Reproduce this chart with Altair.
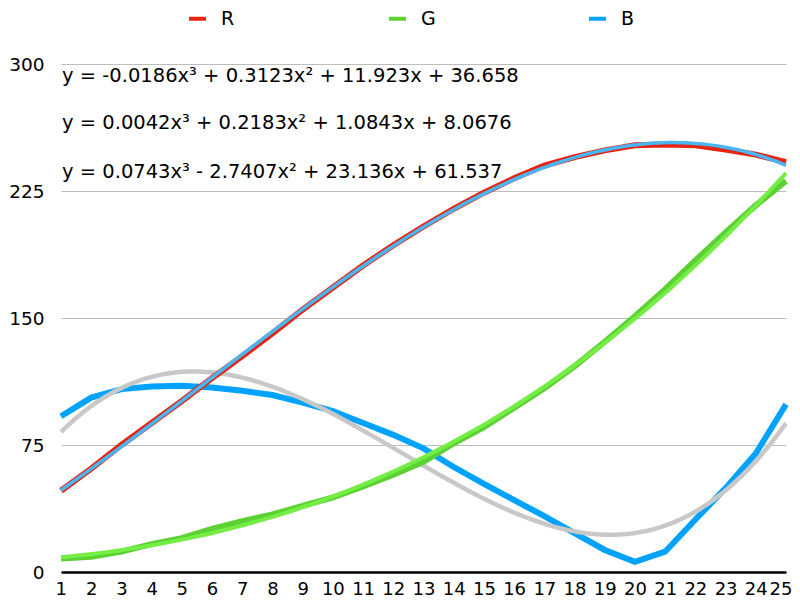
import altair as alt
import pandas as pd

# values
xs = list(range(1, 26))
r_vals = [48, 61, 75, 88, 101, 114.5, 127.5, 141, 155, 168, 181, 193, 204,
          214.5, 224, 232.5, 240, 245, 249, 252, 252.5, 252, 249.5, 246.5, 242]
g_vals = [8, 9, 12, 16.5, 20, 25.5, 30, 34, 39, 44, 50.5, 57.5, 65,
          76, 85.5, 97, 108.5, 121.5, 136, 151, 167, 184, 200.5, 216.5, 231]
b_vals = [92, 103, 108, 109.5, 110, 109, 107, 104.5, 100, 95, 88, 81, 73,
          62, 52, 42.5, 33, 23, 13, 6, 12, 31, 49.5, 70, 99]

series = ['R', 'G', 'B']
line_colors = ['#E8230F', '#5CD134', '#00A2FF']
trend_colors = ['#49B6F2', '#74EE45', '#C8C8C8']
equations = [
    'y = -0.0186x³ + 0.3123x² + 11.923x + 36.658',
    'y = 0.0042x³ + 0.2183x² + 1.0843x + 8.0676',
    'y = 0.0743x³ - 2.7407x² + 23.136x + 61.537',
]
y_ticks = [0, 75, 150, 225, 300]

FONT = 'DejaVu Sans'

rows = []
for name, vals in zip(series, [r_vals, g_vals, b_vals]):
    for x, v in zip(xs, vals):
        rows.append({'x': x, 'v': v, 'series': name})
df = pd.DataFrame(rows)

x_enc = alt.X('x:Q',
              scale=alt.Scale(domain=[1, 25], nice=False, zero=False),
              axis=alt.Axis(values=xs, format='d', title=None, grid=False,
                            ticks=False, domainColor='black', domainWidth=2.5,
                            labelFont=FONT, labelFontSize=18, labelColor='black',
                            labelPadding=8, labelFlush=True, labelFlushOffset=6,
                            labelOverlap=False))
y_enc = alt.Y('v:Q',
              scale=alt.Scale(domain=[0, 300], nice=False),
              axis=alt.Axis(values=y_ticks, title=None, grid=True,
                            gridColor='#BDBDBD', gridWidth=1, ticks=False,
                            domain=False, labelFont=FONT, labelFontSize=18.5,
                            labelColor='black', labelPadding=17))
color_enc = alt.Color('series:N',
                      scale=alt.Scale(domain=series, range=line_colors),
                      legend=alt.Legend(orient='none', legendX=126, legendY=-56,
                                        direction='horizontal', title=None,
                                        symbolType='stroke', symbolSize=289,
                                        symbolStrokeWidth=4, labelFont=FONT,
                                        labelFontSize=19, labelColor='black',
                                        labelOffset=13, columnPadding=145,
                                        gridAlign='all', padding=0))

base = alt.Chart(df)
layers = []
# draw B first, R last so the red/trend sits on top
for name, tcol, twidth in reversed(list(zip(series, trend_colors, [3.5, 4, 4.5]))):
    data_line = base.transform_filter(alt.datum.series == name).mark_line(
        strokeWidth=6
    ).encode(x=x_enc, y=y_enc, color=color_enc)
    trend_line = base.transform_filter(alt.datum.series == name).transform_regression(
        'x', 'v', method='poly', order=3, extent=[1, 25]
    ).mark_line(color=tcol, strokeWidth=twidth).encode(x=x_enc, y=y_enc)
    layers += [data_line, trend_line]

eq_y = [17.7, 65.3, 113.7]
for eq, ypos in zip(equations, eq_y):
    layers.append(
        alt.Chart(pd.DataFrame({'eq': [eq]})).mark_text(
            align='left', baseline='alphabetic', font=FONT, fontSize=19.5,
            color='black'
        ).encode(x=alt.value(1), y=alt.value(ypos), text='eq:N')
    )

chart = alt.layer(*layers).properties(
    width=725,
    height=508,
    autosize=alt.AutoSizeParams(type='none'),
    padding={'left': 53, 'top': 56, 'right': 6, 'bottom': 28},
).configure_view(stroke=None)

chart.save("out.html", embed_options={"renderer": "svg", "actions": False})
